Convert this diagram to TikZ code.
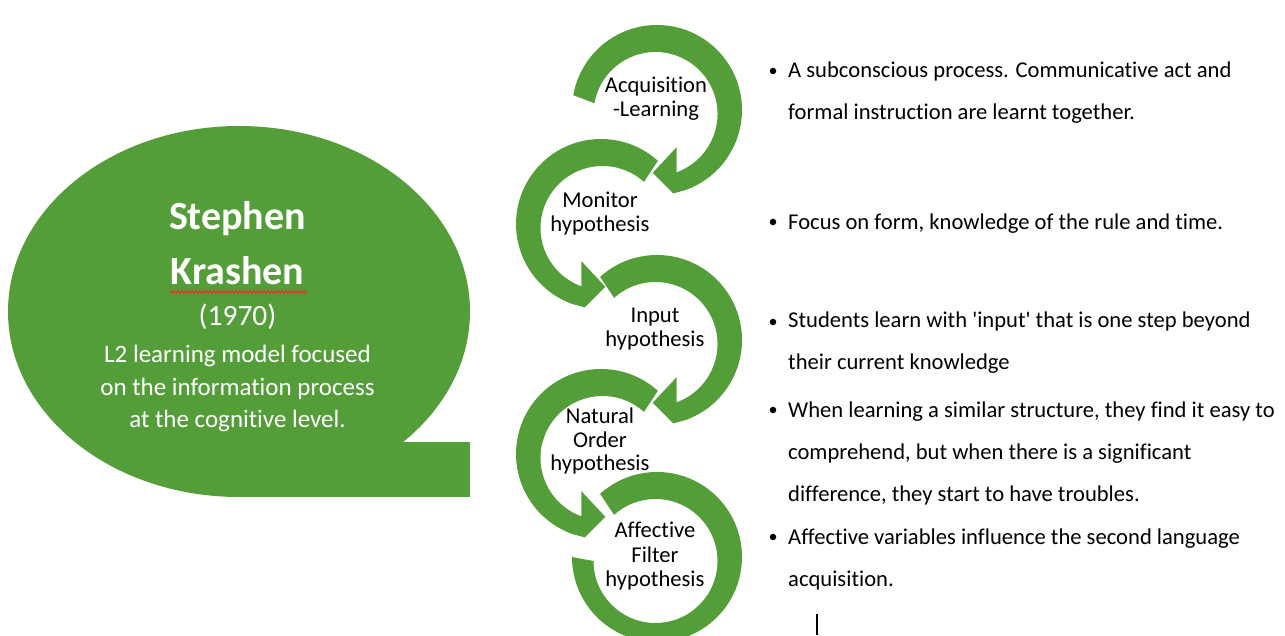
\documentclass[tikz,border=0pt]{standalone}
\usepackage{fontspec}
\setmainfont{Carlito}[Ligatures={NoCommon}]
\usetikzlibrary{decorations.pathmorphing}
\definecolor{grn}{HTML}{549E39}
\definecolor{squig}{HTML}{E8302A}
\tikzset{
  garrow/.style={fill=grn, draw=none},
  lbl/.style={font=\fontsize{22.6}{24}\selectfont, text=black, anchor=base, inner sep=0pt},
  btxt/.style={font=\fontsize{22.6}{24}\selectfont, text=black, anchor=base west, inner sep=0pt},
  bul/.style={circle, fill=black, inner sep=0pt, minimum size=6.5pt},
  wtxt/.style={text=white, anchor=base, inner sep=0pt},
}
\begin{document}
\begin{tikzpicture}[x=1pt,y=1pt]
\useasboundingbox (0,0) rectangle (1285,636);
% speech bubble
\fill[grn] (239,324.5) ellipse [x radius=231pt, y radius=185.5pt];
\fill[grn] (239,139) rectangle (470,194);
\node[wtxt, font=\fontsize{40}{44}\bfseries] (s1) at (237.5,406) {Stephen};
\node[wtxt, font=\fontsize{40}{44}\bfseries] (s2) at (237.5,351) {Krashen};
\node[wtxt, font=\fontsize{29.5}{32}\selectfont] (s3) at (237.5,310) {(1970)};
\node[wtxt, font=\fontsize{25}{28}\selectfont] (s4) at (237.5,273) {L2 learning model focused};
\node[wtxt, font=\fontsize{25}{28}\selectfont] (s5) at (237.5,240) {on the information process};
\node[wtxt, font=\fontsize{25}{28}\selectfont] (s6) at (237.5,208) {at the cognitive level.};
\coordinate (q1) at (170,344);
\coordinate (q2) at (307,344);
\draw[squig, line width=1pt, decorate, decoration={zigzag, segment length=3.6pt, amplitude=1.4pt}] (q1) -- (q2);
% circle labels
\node[lbl] (a1) at (656,543) {Acquisition};
\node[lbl] (a2) at (656,519) {-Learning};
\node[lbl] (m1) at (600,428) {Monitor};
\node[lbl] (m2) at (600,404) {hypothesis};
\node[lbl] (i1) at (655,313) {Input};
\node[lbl] (i2) at (655,289) {hypothesis};
\node[lbl] (n1) at (600,212) {Natural};
\node[lbl] (n2) at (600,188) {Order};
\node[lbl] (n3) at (600,165) {hypothesis};
\node[lbl] (f1) at (655,98) {Affective};
\node[lbl] (f2) at (655,73) {Filter};
\node[lbl] (f3) at (655,49) {hypothesis};
% arrow 5
\begin{scope}[shift={(657,79)}]
\fill[garrow] (132:85) arc[start angle=132, end angle=-180, radius=85pt] -- ([shift={(-1.5,-4)}]-180:62) arc[start angle=-180, end angle=132, radius=62pt] -- cycle;
\end{scope}
% arrow 4
\begin{scope}[shift={(601,182)}]
\fill[garrow] (48:85) arc[start angle=48, end angle=250, radius=85pt] -- (259:85) -- (274:63) -- (242:42) -- ([shift={(1.5,-4)}]250:62) arc[start angle=250, end angle=48, radius=62pt] -- cycle;
\end{scope}
% arrow 3
\begin{scope}[shift={(657,296)}]
\fill[garrow] (132:85) arc[start angle=132, end angle=-70, radius=85pt] -- (-79:85) -- (-94:63) -- (-62:42) -- ([shift={(-1.5,-4)}]-70:62) arc[start angle=-70, end angle=132, radius=62pt] -- cycle;
\end{scope}
% arrow 2
\begin{scope}[shift={(601,412)}]
\fill[garrow] (48:85) arc[start angle=48, end angle=250, radius=85pt] -- (259:85) -- (274:63) -- (242:42) -- ([shift={(1.5,-4)}]250:62) arc[start angle=250, end angle=48, radius=62pt] -- cycle;
\end{scope}
% arrow 1
\begin{scope}[shift={(657,526)}]
\fill[garrow] (170:85) arc[start angle=170, end angle=-70, radius=85pt] -- (-79:85) -- (-94:63) -- (-62:42) -- ([shift={(-1.5,-4)}]-70:62) arc[start angle=-70, end angle=170, radius=62pt] -- cycle;
\end{scope}
% bullet list
\node[bul] (d1) at (773,565) {};
\node[btxt] (t1a) at (788,558) {A subconscious process. Communicative act and};
\node[btxt] (t1b) at (788,516) {formal instruction are learnt together.};
\node[bul] (d2) at (773,414) {};
\node[btxt] (t2a) at (788,406) {Focus on form, knowledge of the rule and time.};
\node[bul] (d3) at (773,314) {};
\node[btxt] (t3a) at (788,308) {Students learn with \textquotesingle input\textquotesingle{} that is one step beyond};
\node[btxt] (t3b) at (788,266) {their current knowledge};
\node[bul] (d4) at (773,226) {};
\node[btxt] (t4a) at (788,218) {When learning a similar structure, they find it easy to};
\node[btxt] (t4b) at (788,176) {comprehend, but when there is a significant};
\node[btxt] (t4c) at (788,134) {difference, they start to have troubles.};
\node[bul] (d5) at (773,99) {};
\node[btxt] (t5a) at (788,91) {Affective variables influence the second language};
\node[btxt] (t5b) at (788,49) {acquisition.};
% text cursor
\coordinate (c1) at (817,22);
\coordinate (c2) at (817,1);
\draw[line width=1.2pt] (c1) -- (c2);
\end{tikzpicture}
\end{document}
